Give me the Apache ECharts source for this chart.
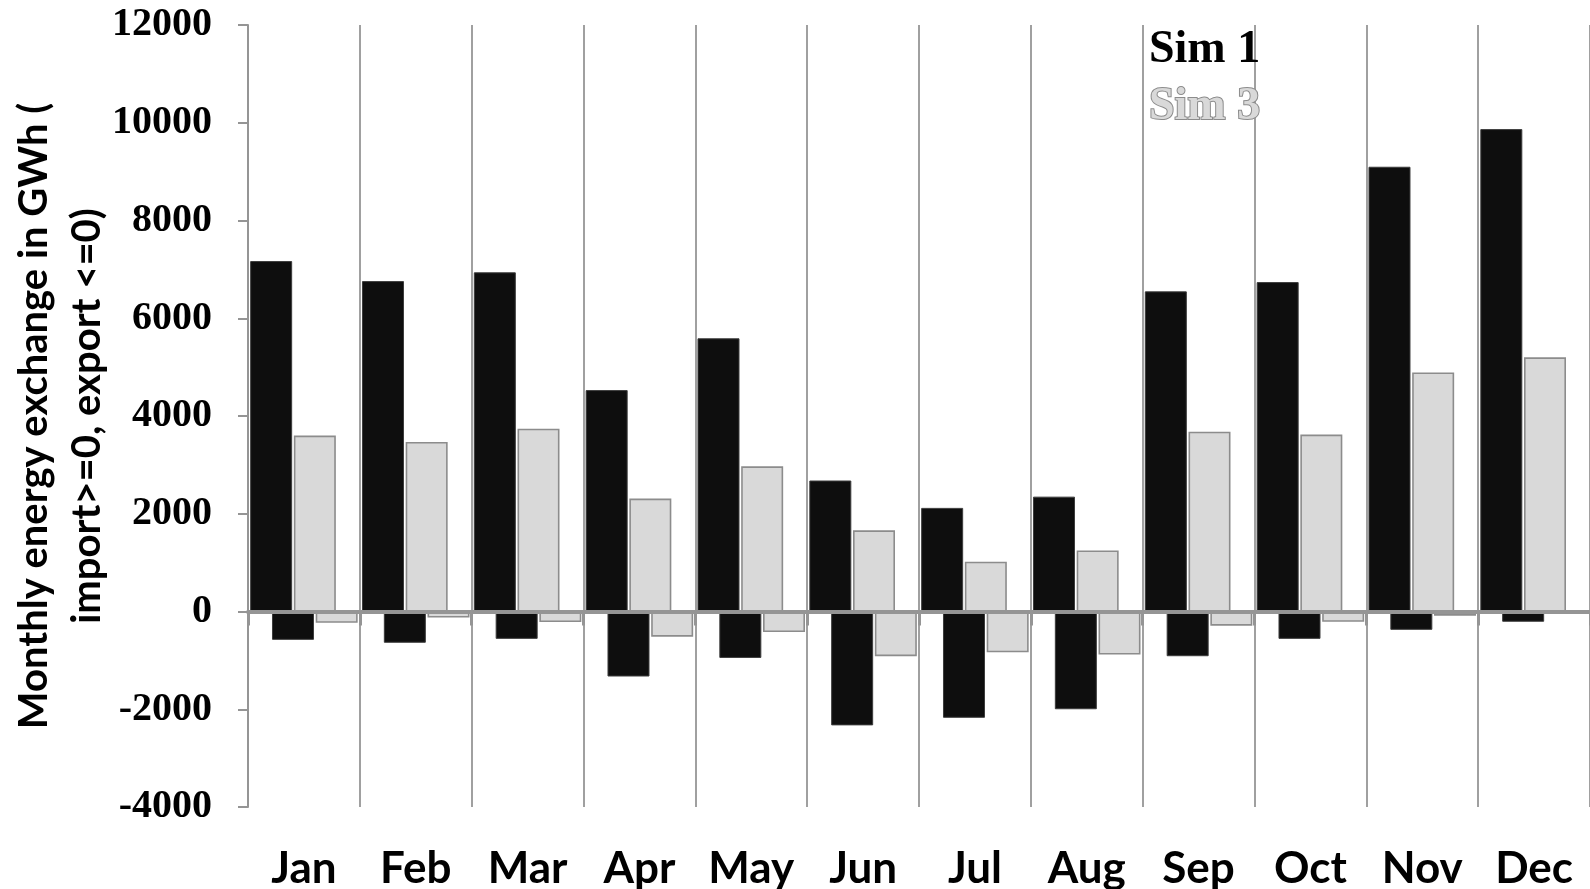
<!DOCTYPE html>
<html>
<head>
<meta charset="utf-8">
<script src="https://cdn.jsdelivr.net/npm/echarts@6/dist/echarts.min.js"></script>
<style>
html,body{margin:0;padding:0;background:#fff;}
#chart{width:1590px;height:889px;}
</style>
</head>
<body>
<div id="chart"></div>
<script>
const months = ['Jan','Feb','Mar','Apr','May','Jun','Jul','Aug','Sep','Oct','Nov','Dec'];
const sim1Import = [7170, 6760, 6940, 4530, 5590, 2680, 2120, 2350, 6550, 6740, 9100, 9870];
const sim3Import = [3600, 3470, 3740, 2310, 2970, 1660, 1020, 1250, 3680, 3620, 4890, 5200];
const sim1Export = [-580, -640, -560, -1330, -950, -2330, -2175, -2000, -915, -560, -375, -210];
const sim3Export = [-230, -125, -215, -515, -420, -915, -835, -880, -290, -210, -85, -20];
const yTitle = 'Monthly energy exchange in GWh (\nimport>=0, export <=0)';

const axisGray = '#959595';
const blackStyle = {color:'#0e0e0e', borderColor:'#3c3c3c', borderWidth:1};
const grayStyle = {color:'#d9d9d9', borderColor:'#8c8c8c', borderWidth:1.6};

const chart = echarts.init(document.getElementById('chart'), null, {renderer:'canvas'});
chart.setOption({
  animation:false,
  backgroundColor:'#fff',
  grid:{left:248, right:0, top:25, bottom:82, containLabel:false, outerBoundsMode:'none'},
  legend:{
    orient:'vertical', left:1138, top:18, itemWidth:0, itemHeight:0, itemGap:2,
    selectedMode:false,
    data:[
      {name:'Sim 1', icon:'rect', textStyle:{color:'#000', fontFamily:'Liberation Serif', fontWeight:'bold', fontSize:46, lineHeight:55}},
      {name:'Sim 3', icon:'rect', textStyle:{color:'#d9d9d9', textBorderColor:'#8c8c8c', textBorderWidth:2, fontFamily:'Liberation Serif', fontWeight:'bold', fontSize:46, lineHeight:55}}
    ]
  },
  xAxis:[
    {
      type:'category', data:months, boundaryGap:true, position:'bottom',
      axisLine:{show:false, onZero:false},
      axisTick:{show:false},
      splitLine:{show:true, lineStyle:{color:'#a0a0a0', width:2}},
      axisLabel:{margin:40, color:'#000', fontFamily:'Lato', fontWeight:'bold', fontSize:44}
    },
    {
      type:'category', data:months, boundaryGap:true, position:'top', z:10,
      axisLine:{show:true, onZero:true, lineStyle:{color:axisGray, width:4}},
      axisTick:{show:true, inside:true, length:14, lineStyle:{color:axisGray, width:3}},
      splitLine:{show:false},
      axisLabel:{show:false}
    }
  ],
  yAxis:{
    type:'value', min:-4000, max:12000, interval:2000,
    axisLine:{show:true, lineStyle:{color:axisGray, width:2}},
    axisTick:{show:true, length:10, lineStyle:{color:axisGray, width:2}},
    splitLine:{show:false},
    axisLabel:{margin:36, color:'#000', fontFamily:'Liberation Serif', fontWeight:'bold', fontSize:40,
      formatter:function(v){return String(v);}},
    name:yTitle, nameLocation:'middle', nameRotate:90, nameGap:134, nameMoveOverlap:false,
    nameTextStyle:{color:'#000', fontFamily:'Lato', fontWeight:'bold', fontSize:40, lineHeight:53, align:'center'}
  },
  series:[
    {name:'Sim 1', type:'bar', data:sim1Import, barWidth:42, barGap:'-48%', itemStyle:blackStyle},
    {name:'Sim 1 export', type:'bar', data:sim1Export, barWidth:42, barGap:'-48%', itemStyle:blackStyle},
    {name:'Sim 3', type:'bar', data:sim3Import, barWidth:42, barGap:'-48%', itemStyle:grayStyle},
    {name:'Sim 3 export', type:'bar', data:sim3Export, barWidth:42, barGap:'-48%', itemStyle:grayStyle}
  ]
});
</script>
</body>
</html>
